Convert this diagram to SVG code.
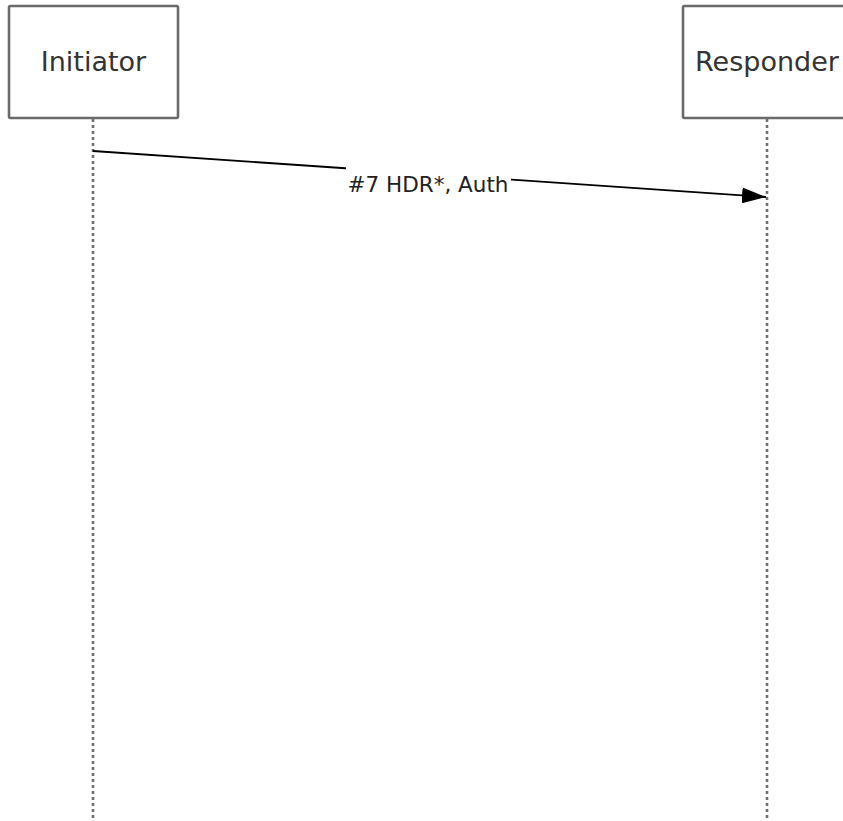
<svg xmlns="http://www.w3.org/2000/svg" width="843" height="821" viewBox="0 0 843 821">
<style>
.box{fill:#fff;stroke:#6a6a6a;stroke-width:2.6}
.life{stroke:#707070;stroke-width:2.6;stroke-dasharray:3 3;fill:none}
.name{font-family:"DejaVu Sans",Verdana,sans-serif;font-size:27px;fill:#333;text-anchor:middle}
.lbl{font-family:"DejaVu Sans",Verdana,sans-serif;font-size:21.5px;fill:#222;text-anchor:middle}
.msg{stroke:#000;stroke-width:1.8;fill:none}
</style>
<defs>
<marker id="ah" viewBox="0 0 24 16" refX="24" refY="8" markerWidth="24" markerHeight="16" markerUnits="userSpaceOnUse" orient="auto">
<path d="M0,0 L24,8 L0,16 Z" fill="#000"/>
</marker>
</defs>
<rect width="843" height="821" fill="#fff"/>
<g id="initiator">
<rect class="box" x="9" y="6" width="169" height="112" rx="1.5"/>
<text class="name" x="93.5" y="71">Initiator</text>
<line class="life" x1="93" y1="119" x2="93" y2="821"/>
</g>
<g id="responder">
<rect class="box" x="683" y="6" width="169" height="112" rx="1.5"/>
<text class="name" x="767" y="71">Responder</text>
<line class="life" x1="767" y1="119" x2="767" y2="821"/>
</g>
<g id="connectors">
<line class="msg" x1="93" y1="151" x2="766" y2="197" marker-end="url(#ah)"/>
<rect x="346" y="165" width="165" height="32" fill="#fff"/>
<text class="lbl" x="428" y="192">#7 HDR*, Auth</text>
</g>
</svg>
